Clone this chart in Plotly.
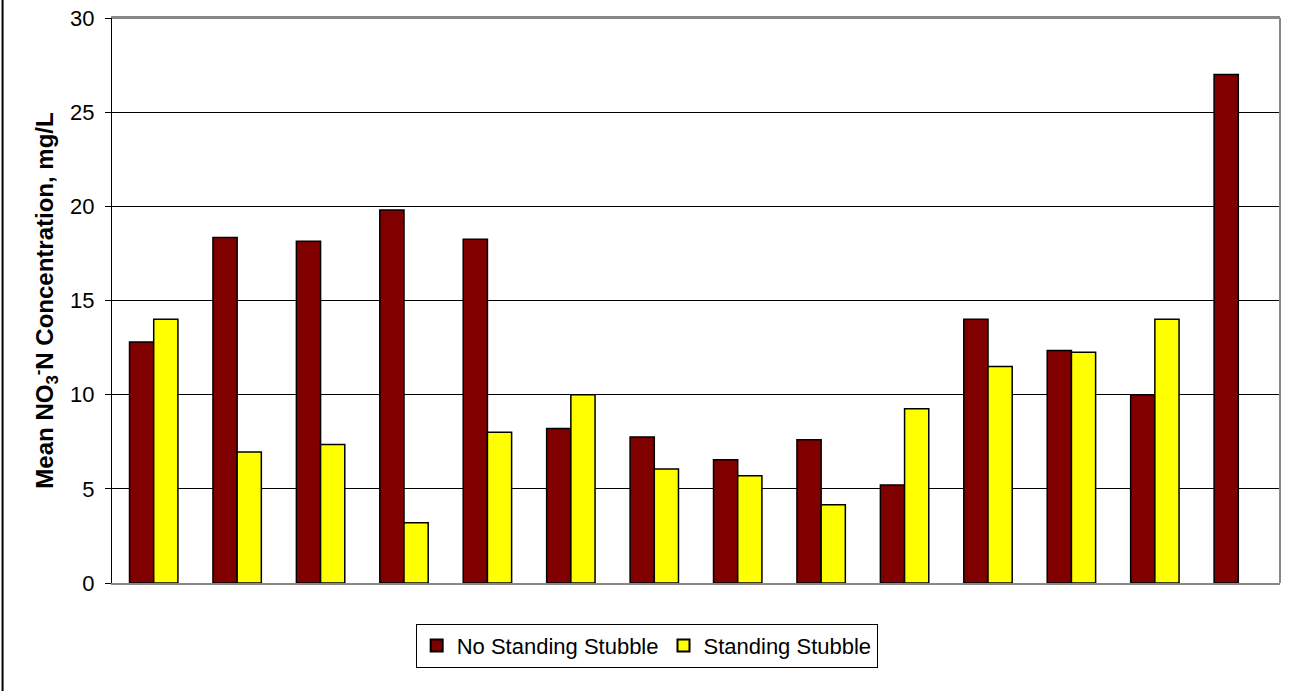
import plotly.graph_objects as go

# Sampling sites (no labels shown on the category axis)
sites = [f"S{i}" for i in range(1, 15)]

no_stubble = [12.8, 18.35, 18.15, 19.8, 18.25, 8.2, 7.75, 6.55, 7.6, 5.2, 14.0, 12.35, 10.0, 27.0]
stubble = [14.0, 6.95, 7.35, 3.2, 8.0, 10.0, 6.05, 5.7, 4.15, 9.25, 11.5, 12.25, 14.0, None]

FONT = "Arial, Liberation Sans, sans-serif"

fig = go.Figure()
fig.add_trace(go.Bar(
    x=sites, y=no_stubble, name="No Standing Stubble",
    marker=dict(color="#800000", line=dict(color="#000000", width=1.5)),
))
fig.add_trace(go.Bar(
    x=sites, y=stubble, name="Standing Stubble",
    marker=dict(color="#FFFF00", line=dict(color="#000000", width=1.5)),
))

fig.update_layout(
    width=1293, height=691,
    margin=dict(l=112, r=13, t=18, b=108, autoexpand=False),
    paper_bgcolor="white", plot_bgcolor="white",
    barmode="group", bargap=0.42, bargroupgap=0,
    font=dict(family=FONT, size=22, color="#000000"),
    showlegend=True,
    legend=dict(
        orientation="h", x=0.26, y=-0.072, xanchor="left", yanchor="top",
        bordercolor="#000000", borderwidth=1, bgcolor="white",
        font=dict(family=FONT, size=22, color="#000000"),
        itemsizing="constant", traceorder="normal",
        itemwidth=30, tracegroupgap=0,
    ),
    xaxis=dict(
        showticklabels=False, ticks="", showgrid=False, zeroline=False,
        showline=True, linecolor="#888888", linewidth=2, mirror=True,
        automargin=False,
    ),
    yaxis=dict(
        range=[0, 30], dtick=5, tick0=0,
        showgrid=True, gridcolor="#000000", gridwidth=1,
        zeroline=False, automargin=False,
        showline=True, linecolor="#000000", linewidth=1,
        ticks="outside", ticklen=6, tickcolor="#000000",
        ticklabelstandoff=6,
        tickfont=dict(family=FONT, size=22, color="#000000"),
        title=dict(
            text="<b>Mean NO<sub>3</sub><sup>-</sup>N Concentration, mg/L</b>",
            font=dict(family=FONT, size=24, color="#000000"),
            standoff=9,
        ),
    ),
)

# Plot-area frame: gray on top and right
fig.add_shape(type="line", xref="paper", yref="paper", x0=0, x1=1, y0=1, y1=1,
              line=dict(color="#888888", width=2))
fig.add_shape(type="line", xref="paper", yref="paper", x0=1, x1=1, y0=0, y1=1,
              line=dict(color="#888888", width=2))
# Outer chart border on the left edge
fig.add_shape(type="line", xref="paper", yref="paper",
              x0=-0.0937, x1=-0.0937, y0=-0.2, y1=1.04,
              line=dict(color="#000000", width=2))

fig.write_html("out.html")
